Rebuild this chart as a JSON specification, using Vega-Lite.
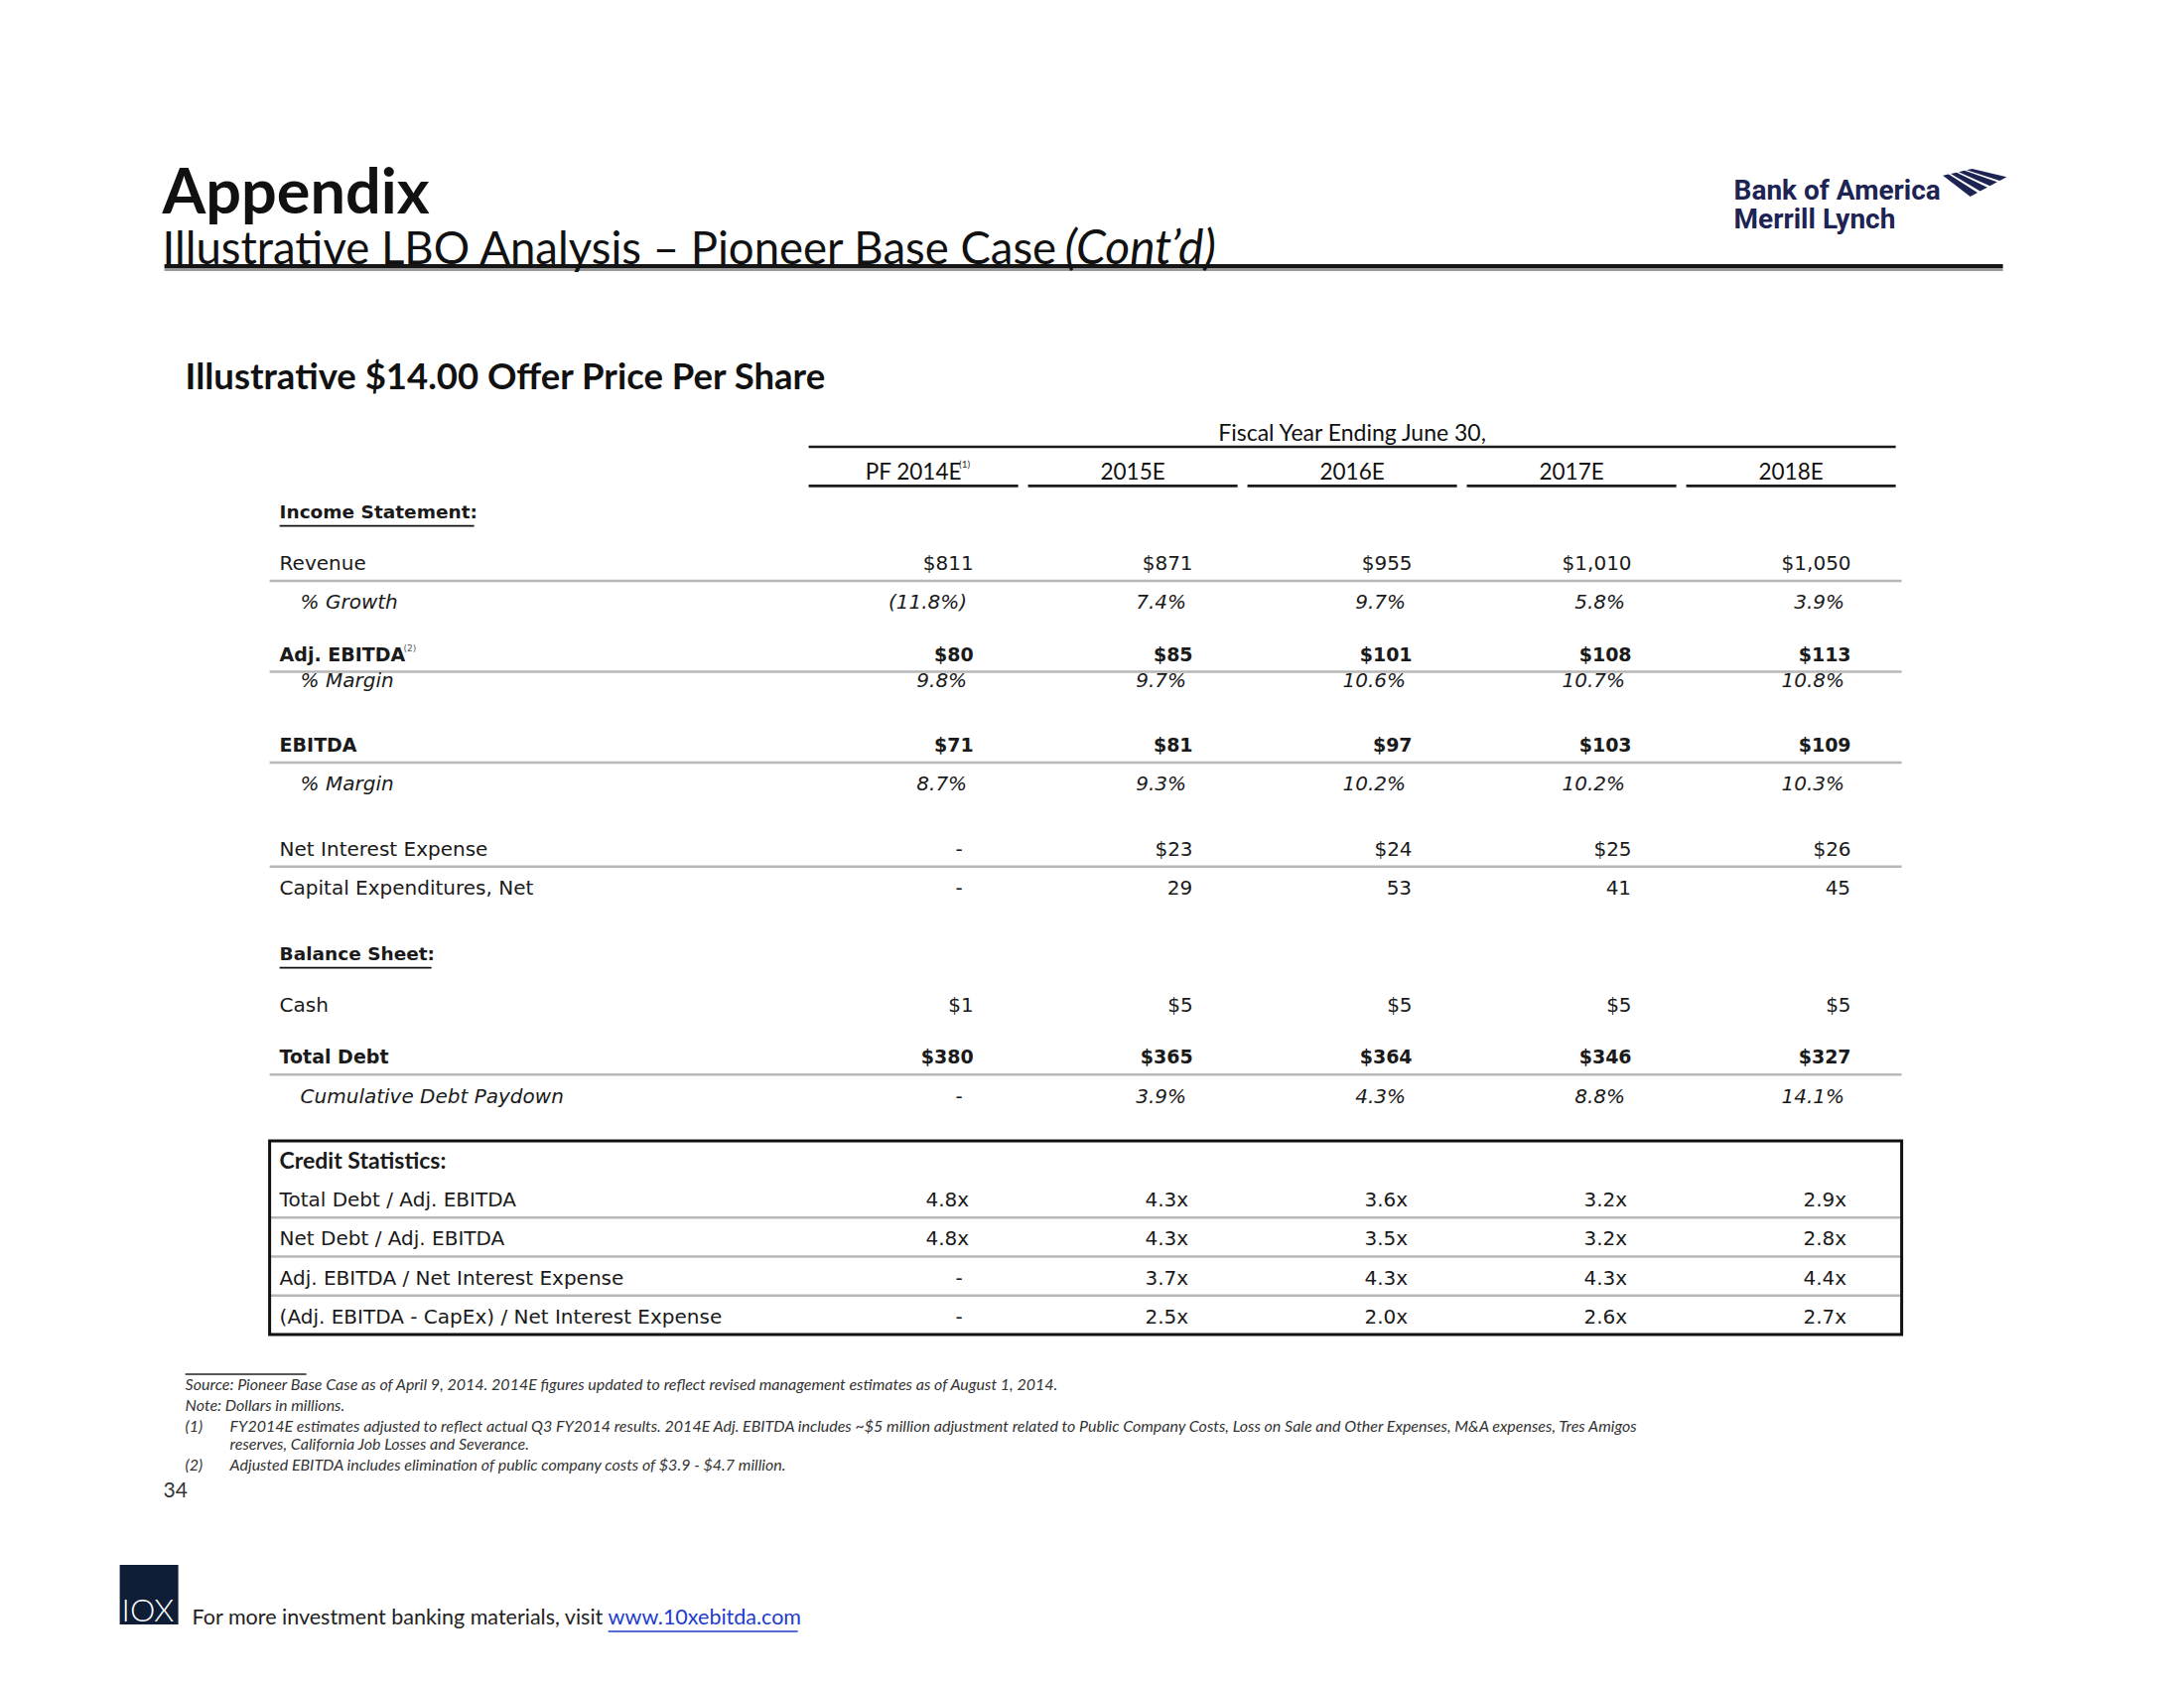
{
  "$schema": "https://vega.github.io/schema/vega-lite/v6.json",
  "width": 2200,
  "height": 1700,
  "autosize": {"type": "fit", "contains": "padding"},
  "padding": 0,
  "background": "white",
  "config": {
    "view": {"stroke": null},
    "axis": {"disable": true},
    "text": {"font": "DejaVu Sans", "fontSize": 20, "color": "#1a1a1a", "baseline": "middle"}
  },
  "data": {"values": [{}]},
  "datasets": {
    "lines": [
      {"row": "Income Statement:", "label": "Income Statement:", "type": "section", "rule": false},
      {"row": "Revenue", "label": "Revenue", "type": "item", "unit": "$", "rule": true},
      {"row": "% Growth", "label": "% Growth", "type": "ratio", "unit": "%", "rule": false},
      {"row": "Adj. EBITDA", "label": "Adj. EBITDA", "type": "total", "unit": "$", "rule": true},
      {"row": "Adj. EBITDA % Margin", "label": "% Margin", "type": "ratio", "unit": "%", "rule": false},
      {"row": "EBITDA", "label": "EBITDA", "type": "total", "unit": "$", "rule": true},
      {"row": "EBITDA % Margin", "label": "% Margin", "type": "ratio", "unit": "%", "rule": false},
      {"row": "Net Interest Expense", "label": "Net Interest Expense", "type": "item", "unit": "$", "rule": true},
      {"row": "Capital Expenditures, Net", "label": "Capital Expenditures, Net", "type": "item", "unit": "#", "rule": false},
      {"row": "Balance Sheet:", "label": "Balance Sheet:", "type": "section", "rule": false},
      {"row": "Cash", "label": "Cash", "type": "item", "unit": "$", "rule": false},
      {"row": "Total Debt", "label": "Total Debt", "type": "total", "unit": "$", "rule": true},
      {"row": "Cumulative Debt Paydown", "label": "Cumulative Debt Paydown", "type": "ratio", "unit": "%", "rule": false},
      {"row": "Credit Statistics:", "label": "Credit Statistics:", "type": "heading", "rule": false},
      {"row": "Total Debt / Adj. EBITDA", "label": "Total Debt / Adj. EBITDA", "type": "stat", "unit": "x", "rule": true},
      {"row": "Net Debt / Adj. EBITDA", "label": "Net Debt / Adj. EBITDA", "type": "stat", "unit": "x", "rule": true},
      {"row": "Adj. EBITDA / Net Interest Expense", "label": "Adj. EBITDA / Net Interest Expense", "type": "stat", "unit": "x", "rule": true},
      {"row": "(Adj. EBITDA - CapEx) / Net Interest Expense", "label": "(Adj. EBITDA - CapEx) / Net Interest Expense", "type": "stat", "unit": "x", "rule": false}
    ],
    "cells": [
      {"row": "Revenue", "col": "PF 2014E", "value": 811},
      {"row": "Revenue", "col": "2015E", "value": 871},
      {"row": "Revenue", "col": "2016E", "value": 955},
      {"row": "Revenue", "col": "2017E", "value": 1010},
      {"row": "Revenue", "col": "2018E", "value": 1050},
      {"row": "% Growth", "col": "PF 2014E", "value": -0.118},
      {"row": "% Growth", "col": "2015E", "value": 0.074},
      {"row": "% Growth", "col": "2016E", "value": 0.097},
      {"row": "% Growth", "col": "2017E", "value": 0.058},
      {"row": "% Growth", "col": "2018E", "value": 0.039},
      {"row": "Adj. EBITDA", "col": "PF 2014E", "value": 80},
      {"row": "Adj. EBITDA", "col": "2015E", "value": 85},
      {"row": "Adj. EBITDA", "col": "2016E", "value": 101},
      {"row": "Adj. EBITDA", "col": "2017E", "value": 108},
      {"row": "Adj. EBITDA", "col": "2018E", "value": 113},
      {"row": "Adj. EBITDA % Margin", "col": "PF 2014E", "value": 0.098},
      {"row": "Adj. EBITDA % Margin", "col": "2015E", "value": 0.097},
      {"row": "Adj. EBITDA % Margin", "col": "2016E", "value": 0.106},
      {"row": "Adj. EBITDA % Margin", "col": "2017E", "value": 0.107},
      {"row": "Adj. EBITDA % Margin", "col": "2018E", "value": 0.108},
      {"row": "EBITDA", "col": "PF 2014E", "value": 71},
      {"row": "EBITDA", "col": "2015E", "value": 81},
      {"row": "EBITDA", "col": "2016E", "value": 97},
      {"row": "EBITDA", "col": "2017E", "value": 103},
      {"row": "EBITDA", "col": "2018E", "value": 109},
      {"row": "EBITDA % Margin", "col": "PF 2014E", "value": 0.087},
      {"row": "EBITDA % Margin", "col": "2015E", "value": 0.093},
      {"row": "EBITDA % Margin", "col": "2016E", "value": 0.102},
      {"row": "EBITDA % Margin", "col": "2017E", "value": 0.102},
      {"row": "EBITDA % Margin", "col": "2018E", "value": 0.103},
      {"row": "Net Interest Expense", "col": "PF 2014E", "value": null},
      {"row": "Net Interest Expense", "col": "2015E", "value": 23},
      {"row": "Net Interest Expense", "col": "2016E", "value": 24},
      {"row": "Net Interest Expense", "col": "2017E", "value": 25},
      {"row": "Net Interest Expense", "col": "2018E", "value": 26},
      {"row": "Capital Expenditures, Net", "col": "PF 2014E", "value": null},
      {"row": "Capital Expenditures, Net", "col": "2015E", "value": 29},
      {"row": "Capital Expenditures, Net", "col": "2016E", "value": 53},
      {"row": "Capital Expenditures, Net", "col": "2017E", "value": 41},
      {"row": "Capital Expenditures, Net", "col": "2018E", "value": 45},
      {"row": "Cash", "col": "PF 2014E", "value": 1},
      {"row": "Cash", "col": "2015E", "value": 5},
      {"row": "Cash", "col": "2016E", "value": 5},
      {"row": "Cash", "col": "2017E", "value": 5},
      {"row": "Cash", "col": "2018E", "value": 5},
      {"row": "Total Debt", "col": "PF 2014E", "value": 380},
      {"row": "Total Debt", "col": "2015E", "value": 365},
      {"row": "Total Debt", "col": "2016E", "value": 364},
      {"row": "Total Debt", "col": "2017E", "value": 346},
      {"row": "Total Debt", "col": "2018E", "value": 327},
      {"row": "Cumulative Debt Paydown", "col": "PF 2014E", "value": null},
      {"row": "Cumulative Debt Paydown", "col": "2015E", "value": 0.039},
      {"row": "Cumulative Debt Paydown", "col": "2016E", "value": 0.043},
      {"row": "Cumulative Debt Paydown", "col": "2017E", "value": 0.088},
      {"row": "Cumulative Debt Paydown", "col": "2018E", "value": 0.141},
      {"row": "Total Debt / Adj. EBITDA", "col": "PF 2014E", "value": 4.8},
      {"row": "Total Debt / Adj. EBITDA", "col": "2015E", "value": 4.3},
      {"row": "Total Debt / Adj. EBITDA", "col": "2016E", "value": 3.6},
      {"row": "Total Debt / Adj. EBITDA", "col": "2017E", "value": 3.2},
      {"row": "Total Debt / Adj. EBITDA", "col": "2018E", "value": 2.9},
      {"row": "Net Debt / Adj. EBITDA", "col": "PF 2014E", "value": 4.8},
      {"row": "Net Debt / Adj. EBITDA", "col": "2015E", "value": 4.3},
      {"row": "Net Debt / Adj. EBITDA", "col": "2016E", "value": 3.5},
      {"row": "Net Debt / Adj. EBITDA", "col": "2017E", "value": 3.2},
      {"row": "Net Debt / Adj. EBITDA", "col": "2018E", "value": 2.8},
      {"row": "Adj. EBITDA / Net Interest Expense", "col": "PF 2014E", "value": null},
      {"row": "Adj. EBITDA / Net Interest Expense", "col": "2015E", "value": 3.7},
      {"row": "Adj. EBITDA / Net Interest Expense", "col": "2016E", "value": 4.3},
      {"row": "Adj. EBITDA / Net Interest Expense", "col": "2017E", "value": 4.3},
      {"row": "Adj. EBITDA / Net Interest Expense", "col": "2018E", "value": 4.4},
      {"row": "(Adj. EBITDA - CapEx) / Net Interest Expense", "col": "PF 2014E", "value": null},
      {"row": "(Adj. EBITDA - CapEx) / Net Interest Expense", "col": "2015E", "value": 2.5},
      {"row": "(Adj. EBITDA - CapEx) / Net Interest Expense", "col": "2016E", "value": 2.0},
      {"row": "(Adj. EBITDA - CapEx) / Net Interest Expense", "col": "2017E", "value": 2.6},
      {"row": "(Adj. EBITDA - CapEx) / Net Interest Expense", "col": "2018E", "value": 2.7}
    ]
  },
  "layer": [
    {
      "data": {"name": "lines"},
      "transform": [{"filter": {"field": "rule", "equal": true}}],
      "mark": {"type": "rule", "color": "#b8b8b8", "strokeWidth": 2.5, "yOffset": 17, "xOffset": 120, "x2Offset": 6},
      "encoding": {
        "x": {"datum": "Label", "bandPosition": 0, "scale": {"type": "band", "domain": ["Label", "g1", "g2", "PF 2014E", "2015E", "2016E", "2017E", "2018E"], "paddingInner": 0.045, "paddingOuter": 1.036, "align": 0.343}},
        "x2": {"datum": "2018E", "bandPosition": 1},
        "y": {"field": "row", "type": "nominal", "scale": {"type": "point", "domain": ["Fiscal Year Ending June 30,", "hdr-rule", "s2", "years", "years-rule", "s5", "Income Statement:", "s7", "s8", "s9", "Revenue", "s11", "s12", "% Growth", "s14", "s15", "s16", "Adj. EBITDA", "s18", "Adj. EBITDA % Margin", "s20", "s21", "s22", "s23", "EBITDA", "s25", "s26", "EBITDA % Margin", "s28", "s29", "s30", "s31", "Net Interest Expense", "s33", "s34", "Capital Expenditures, Net", "s36", "s37", "s38", "s39", "Balance Sheet:", "s41", "s42", "s43", "Cash", "s45", "s46", "s47", "Total Debt", "s49", "s50", "Cumulative Debt Paydown", "s52", "s53", "s54", "s55", "Credit Statistics:", "s57", "s58", "Total Debt / Adj. EBITDA", "s60", "s61", "Net Debt / Adj. EBITDA", "s63", "s64", "Adj. EBITDA / Net Interest Expense", "s66", "s67", "(Adj. EBITDA - CapEx) / Net Interest Expense"], "range": [437, 1327], "padding": 0}}
      }
    },
    {
      "mark": {"type": "rect", "fillOpacity": 0, "stroke": "#111111", "strokeWidth": 3, "xOffset": 120, "x2Offset": 6, "yOffset": -21, "y2Offset": 17},
      "encoding": {
        "x": {"datum": "Label", "bandPosition": 0},
        "x2": {"datum": "2018E", "bandPosition": 1},
        "y": {"datum": "Credit Statistics:"},
        "y2": {"datum": "(Adj. EBITDA - CapEx) / Net Interest Expense"}
      }
    },
    {
      "mark": {"type": "rule", "color": "#1a1a1a", "strokeWidth": 2.5},
      "encoding": {
        "x": {"datum": "PF 2014E", "bandPosition": 0},
        "x2": {"datum": "2018E", "bandPosition": 1},
        "y": {"datum": "hdr-rule"}
      }
    },
    {
      "data": {"name": "cells"},
      "transform": [{"aggregate": [{"op": "count", "as": "n"}], "groupby": ["col"]}],
      "mark": {"type": "rect", "fill": "#1a1a1a", "yOffset": -1.3, "y2Offset": 1.3},
      "encoding": {
        "x": {"field": "col", "type": "nominal"},
        "y": {"datum": "years-rule"},
        "y2": {"datum": "years-rule"}
      }
    },
    {
      "data": {"name": "cells"},
      "transform": [{"aggregate": [{"op": "count", "as": "n"}], "groupby": ["col"]}],
      "mark": {"type": "text", "font": "Lato", "fontSize": 22.5, "align": "center", "color": "#111111"},
      "encoding": {
        "x": {"field": "col", "type": "nominal"},
        "y": {"datum": "years"},
        "text": {"field": "col"}
      }
    },
    {
      "mark": {"type": "text", "font": "Lato", "fontSize": 10, "align": "left", "dx": 46, "dy": -8, "text": "(1)", "color": "#333333"},
      "encoding": {"x": {"datum": "PF 2014E"}, "y": {"datum": "years"}}
    },
    {
      "mark": {"type": "text", "font": "Lato", "fontSize": 23, "align": "center", "color": "#111111", "text": "Fiscal Year Ending June 30,"},
      "encoding": {"x": {"datum": "2016E"}, "y": {"datum": "Fiscal Year Ending June 30,"}}
    },
    {
      "data": {"name": "lines"},
      "transform": [{"filter": {"field": "type", "oneOf": ["item", "stat"]}}],
      "mark": {"type": "text", "align": "left", "dx": 130},
      "encoding": {"x": {"datum": "Label", "bandPosition": 0}, "y": {"field": "row", "type": "nominal"}, "text": {"field": "label"}}
    },
    {
      "data": {"name": "lines"},
      "transform": [{"filter": {"field": "type", "equal": "total"}}],
      "mark": {"type": "text", "align": "left", "dx": 130, "fontWeight": "bold", "fontSize": 19},
      "encoding": {"x": {"datum": "Label", "bandPosition": 0}, "y": {"field": "row", "type": "nominal"}, "text": {"field": "label"}}
    },
    {
      "data": {"name": "lines"},
      "transform": [{"filter": {"field": "type", "equal": "ratio"}}],
      "mark": {"type": "text", "align": "left", "dx": 151, "fontStyle": "italic"},
      "encoding": {"x": {"datum": "Label", "bandPosition": 0}, "y": {"field": "row", "type": "nominal"}, "text": {"field": "label"}}
    },
    {
      "data": {"name": "lines"},
      "transform": [{"filter": {"field": "type", "equal": "section"}}],
      "mark": {"type": "text", "align": "left", "dx": 130, "fontWeight": "bold", "fontSize": 18.5},
      "encoding": {"x": {"datum": "Label", "bandPosition": 0}, "y": {"field": "row", "type": "nominal"}, "text": {"field": "label"}}
    },
    {
      "data": {"name": "lines"},
      "transform": [{"filter": {"field": "type", "equal": "heading"}}],
      "mark": {"type": "text", "align": "left", "dx": 130, "font": "Lato", "fontWeight": "bold", "fontSize": 23},
      "encoding": {"x": {"datum": "Label", "bandPosition": 0}, "y": {"field": "row", "type": "nominal"}, "text": {"field": "label"}}
    },
    {
      "mark": {"type": "rule", "color": "#111111", "strokeWidth": 1.8, "yOffset": 14, "xOffset": 130, "x2Offset": 326},
      "encoding": {"x": {"datum": "Label", "bandPosition": 0}, "x2": {"datum": "Label", "bandPosition": 0}, "y": {"datum": "Income Statement:"}}
    },
    {
      "mark": {"type": "rule", "color": "#111111", "strokeWidth": 1.8, "yOffset": 14, "xOffset": 130, "x2Offset": 283},
      "encoding": {"x": {"datum": "Label", "bandPosition": 0}, "x2": {"datum": "Label", "bandPosition": 0}, "y": {"datum": "Balance Sheet:"}}
    },
    {
      "mark": {"type": "text", "align": "left", "dx": 255, "dy": -7, "fontSize": 9, "text": "(2)", "color": "#555555"},
      "encoding": {"x": {"datum": "Label", "bandPosition": 0}, "y": {"datum": "Adj. EBITDA"}}
    },
    {
      "data": {"name": "cells"},
      "transform": [
        {"lookup": "row", "from": {"data": {"name": "lines"}, "key": "row", "fields": ["type", "unit"]}},
        {"filter": {"and": [{"field": "unit", "equal": "$"}, {"field": "type", "equal": "item"}, {"field": "value", "valid": true}]}}
      ],
      "mark": {"type": "text", "align": "right", "dx": 60.5},
      "encoding": {"x": {"field": "col", "type": "nominal"}, "y": {"field": "row", "type": "nominal"}, "text": {"field": "value", "type": "quantitative", "format": "$,.0f"}}
    },
    {
      "data": {"name": "cells"},
      "transform": [
        {"lookup": "row", "from": {"data": {"name": "lines"}, "key": "row", "fields": ["type", "unit"]}},
        {"filter": {"and": [{"field": "unit", "equal": "$"}, {"field": "type", "equal": "total"}, {"field": "value", "valid": true}]}}
      ],
      "mark": {"type": "text", "align": "right", "dx": 60.5, "fontWeight": "bold", "fontSize": 19},
      "encoding": {"x": {"field": "col", "type": "nominal"}, "y": {"field": "row", "type": "nominal"}, "text": {"field": "value", "type": "quantitative", "format": "$,.0f"}}
    },
    {
      "data": {"name": "cells"},
      "transform": [
        {"lookup": "row", "from": {"data": {"name": "lines"}, "key": "row", "fields": ["type", "unit"]}},
        {"filter": {"and": [{"field": "unit", "equal": "#"}, {"field": "value", "valid": true}]}}
      ],
      "mark": {"type": "text", "align": "right", "dx": 60},
      "encoding": {"x": {"field": "col", "type": "nominal"}, "y": {"field": "row", "type": "nominal"}, "text": {"field": "value", "type": "quantitative", "format": ",.0f"}}
    },
    {
      "data": {"name": "cells"},
      "transform": [
        {"lookup": "row", "from": {"data": {"name": "lines"}, "key": "row", "fields": ["type", "unit"]}},
        {"filter": {"and": [{"field": "unit", "equal": "%"}, {"field": "value", "valid": true}]}}
      ],
      "mark": {"type": "text", "align": "right", "dx": 54, "fontStyle": "italic"},
      "encoding": {"x": {"field": "col", "type": "nominal"}, "y": {"field": "row", "type": "nominal"}, "text": {"field": "value", "type": "quantitative", "format": "(.1%"}}
    },
    {
      "data": {"name": "cells"},
      "transform": [
        {"lookup": "row", "from": {"data": {"name": "lines"}, "key": "row", "fields": ["type", "unit"]}},
        {"filter": {"and": [{"field": "unit", "equal": "x"}, {"field": "value", "valid": true}]}}
      ],
      "mark": {"type": "text", "align": "right", "dx": 44.2},
      "encoding": {"x": {"field": "col", "type": "nominal"}, "y": {"field": "row", "type": "nominal"}, "text": {"field": "value", "type": "quantitative", "format": ".1f"}}
    },
    {
      "data": {"name": "cells"},
      "transform": [
        {"lookup": "row", "from": {"data": {"name": "lines"}, "key": "row", "fields": ["type", "unit"]}},
        {"filter": {"and": [{"field": "unit", "equal": "x"}, {"field": "value", "valid": true}]}}
      ],
      "mark": {"type": "text", "align": "right", "dx": 56, "text": "x"},
      "encoding": {"x": {"field": "col", "type": "nominal"}, "y": {"field": "row", "type": "nominal"}}
    },
    {
      "data": {"name": "cells"},
      "transform": [{"filter": {"field": "value", "valid": false}}],
      "mark": {"type": "text", "align": "center", "dx": 46, "text": "-"},
      "encoding": {"x": {"field": "col", "type": "nominal"}, "y": {"field": "row", "type": "nominal"}}
    },
    {
      "mark": {"type": "rule", "color": "#9a9a9a", "strokeWidth": 3, "yOffset": -165.5, "xOffset": 14, "x2Offset": 108},
      "encoding": {"x": {"datum": "Label", "bandPosition": 0}, "x2": {"datum": "2018E", "bandPosition": 1}, "y": {"datum": "Fiscal Year Ending June 30,"}}
    },
    {
      "mark": {"type": "rule", "color": "#151515", "strokeWidth": 4, "yOffset": -169, "xOffset": 14, "x2Offset": 108},
      "encoding": {"x": {"datum": "Label", "bandPosition": 0}, "x2": {"datum": "2018E", "bandPosition": 1}, "y": {"datum": "Fiscal Year Ending June 30,"}}
    },
    {
      "mark": {"type": "text", "font": "Lato", "fontWeight": "bold", "fontSize": 63, "align": "left", "dx": 12, "dy": -241, "color": "#111111", "text": "Appendix"},
      "encoding": {"x": {"datum": "Label", "bandPosition": 0}, "y": {"datum": "Fiscal Year Ending June 30,"}}
    },
    {
      "mark": {"type": "text", "font": "Lato", "fontSize": 45.5, "align": "left", "dx": 12, "dy": -185, "color": "#111111", "text": "Illustrative LBO Analysis – Pioneer Base Case"},
      "encoding": {"x": {"datum": "Label", "bandPosition": 0}, "y": {"datum": "Fiscal Year Ending June 30,"}}
    },
    {
      "mark": {"type": "text", "font": "Lato", "fontStyle": "italic", "fontSize": 48, "align": "left", "dx": 921, "dy": -185, "color": "#111111", "text": "(Cont’d)"},
      "encoding": {"x": {"datum": "Label", "bandPosition": 0}, "y": {"datum": "Fiscal Year Ending June 30,"}}
    },
    {
      "mark": {"type": "text", "font": "Lato", "fontWeight": "bold", "fontSize": 36.5, "align": "left", "dx": 35, "dy": -56, "color": "#111111", "text": "Illustrative $14.00 Offer Price Per Share"},
      "encoding": {"x": {"datum": "Label", "bandPosition": 0}, "y": {"datum": "Fiscal Year Ending June 30,"}}
    },
    {
      "mark": {"type": "text", "font": "Roboto", "fontWeight": "bold", "fontSize": 28, "align": "left", "dx": 48, "dy": -244, "color": "#1d2352", "text": "Bank of America"},
      "encoding": {"x": {"datum": "2018E", "bandPosition": 0}, "y": {"datum": "Fiscal Year Ending June 30,"}}
    },
    {
      "mark": {"type": "text", "font": "Roboto", "fontWeight": "bold", "fontSize": 28, "align": "left", "dx": 48, "dy": -215, "color": "#1d2352", "text": "Merrill Lynch"},
      "encoding": {"x": {"datum": "2018E", "bandPosition": 0}, "y": {"datum": "Fiscal Year Ending June 30,"}}
    },
    {
      "mark": {"type": "point", "filled": true, "size": 4225, "color": "#1d2352", "opacity": 1, "strokeWidth": 0, "xOffset": 291, "yOffset": -253, "shape": "M-1,-0.22L-0.818,-0.262L0.076,0.308L-0.15,0.43Z M-0.754,-0.277L-0.572,-0.319L0.381,0.143L0.155,0.265Z M-0.509,-0.333L-0.327,-0.375L0.686,-0.021L0.46,0.101Z M-0.263,-0.39L-0.09,-0.43L0.98,-0.18L0.765,-0.064Z"},
      "encoding": {"x": {"datum": "2018E", "bandPosition": 0}, "y": {"datum": "Fiscal Year Ending June 30,"}}
    },
    {
      "mark": {"type": "rule", "color": "#222222", "strokeWidth": 1.5, "yOffset": 57, "xOffset": 35, "x2Offset": 157},
      "encoding": {"x": {"datum": "Label", "bandPosition": 0}, "x2": {"datum": "Label", "bandPosition": 0}, "y": {"datum": "(Adj. EBITDA - CapEx) / Net Interest Expense"}}
    },
    {
      "mark": {"type": "text", "font": "Lato", "fontStyle": "italic", "fontSize": 16, "align": "left", "dx": 35, "dy": 68, "color": "#333333", "text": "Source: Pioneer Base Case as of April 9, 2014. 2014E figures updated to reflect revised management estimates as of August 1, 2014."},
      "encoding": {"x": {"datum": "Label", "bandPosition": 0}, "y": {"datum": "(Adj. EBITDA - CapEx) / Net Interest Expense"}}
    },
    {
      "mark": {"type": "text", "font": "Lato", "fontStyle": "italic", "fontSize": 16, "align": "left", "dx": 35, "dy": 89, "color": "#333333", "text": "Note: Dollars in millions."},
      "encoding": {"x": {"datum": "Label", "bandPosition": 0}, "y": {"datum": "(Adj. EBITDA - CapEx) / Net Interest Expense"}}
    },
    {
      "mark": {"type": "text", "font": "Lato", "fontStyle": "italic", "fontSize": 16, "align": "left", "dx": 35, "dy": 110, "color": "#333333", "text": "(1)"},
      "encoding": {"x": {"datum": "Label", "bandPosition": 0}, "y": {"datum": "(Adj. EBITDA - CapEx) / Net Interest Expense"}}
    },
    {
      "mark": {"type": "text", "font": "Lato", "fontStyle": "italic", "fontSize": 16, "align": "left", "dx": 80, "dy": 110, "color": "#333333", "text": "FY2014E estimates adjusted to reflect actual Q3 FY2014 results. 2014E Adj. EBITDA includes ~$5 million adjustment related to Public Company Costs, Loss on Sale and Other Expenses, M&A expenses, Tres Amigos"},
      "encoding": {"x": {"datum": "Label", "bandPosition": 0}, "y": {"datum": "(Adj. EBITDA - CapEx) / Net Interest Expense"}}
    },
    {
      "mark": {"type": "text", "font": "Lato", "fontStyle": "italic", "fontSize": 16, "align": "left", "dx": 80, "dy": 128, "color": "#333333", "text": "reserves, California Job Losses and Severance."},
      "encoding": {"x": {"datum": "Label", "bandPosition": 0}, "y": {"datum": "(Adj. EBITDA - CapEx) / Net Interest Expense"}}
    },
    {
      "mark": {"type": "text", "font": "Lato", "fontStyle": "italic", "fontSize": 16, "align": "left", "dx": 35, "dy": 149, "color": "#333333", "text": "(2)"},
      "encoding": {"x": {"datum": "Label", "bandPosition": 0}, "y": {"datum": "(Adj. EBITDA - CapEx) / Net Interest Expense"}}
    },
    {
      "mark": {"type": "text", "font": "Lato", "fontStyle": "italic", "fontSize": 16, "align": "left", "dx": 80, "dy": 149, "color": "#333333", "text": "Adjusted EBITDA includes elimination of public company costs of $3.9 - $4.7 million."},
      "encoding": {"x": {"datum": "Label", "bandPosition": 0}, "y": {"datum": "(Adj. EBITDA - CapEx) / Net Interest Expense"}}
    },
    {
      "mark": {"type": "text", "font": "Lato", "fontSize": 21, "align": "left", "dx": 13, "dy": 175, "color": "#333333", "text": "34"},
      "encoding": {"x": {"datum": "Label", "bandPosition": 0}, "y": {"datum": "(Adj. EBITDA - CapEx) / Net Interest Expense"}}
    },
    {
      "mark": {"type": "rect", "fill": "#0f1d36", "xOffset": -31, "x2Offset": 28, "yOffset": 249, "y2Offset": 309},
      "encoding": {"x": {"datum": "Label", "bandPosition": 0}, "x2": {"datum": "Label", "bandPosition": 0}, "y": {"datum": "(Adj. EBITDA - CapEx) / Net Interest Expense"}, "y2": {"datum": "(Adj. EBITDA - CapEx) / Net Interest Expense"}}
    },
    {
      "mark": {"type": "text", "font": "Lato", "fontWeight": 300, "fontSize": 32, "align": "left", "baseline": "alphabetic", "dx": -29, "dy": 306, "color": "#ffffff", "text": "IOX"},
      "encoding": {"x": {"datum": "Label", "bandPosition": 0}, "y": {"datum": "(Adj. EBITDA - CapEx) / Net Interest Expense"}}
    },
    {
      "mark": {"type": "text", "font": "Lato", "fontSize": 21.5, "align": "left", "dx": 42, "dy": 303, "color": "#222222", "text": "For more investment banking materials, visit"},
      "encoding": {"x": {"datum": "Label", "bandPosition": 0}, "y": {"datum": "(Adj. EBITDA - CapEx) / Net Interest Expense"}}
    },
    {
      "mark": {"type": "text", "font": "Lato", "fontSize": 21.5, "align": "left", "dx": 461, "dy": 303, "color": "#1f3cc9", "text": "www.10xebitda.com"},
      "encoding": {"x": {"datum": "Label", "bandPosition": 0}, "y": {"datum": "(Adj. EBITDA - CapEx) / Net Interest Expense"}}
    },
    {
      "mark": {"type": "rule", "color": "#1f3cc9", "strokeWidth": 1.3, "yOffset": 316, "xOffset": 461, "x2Offset": 652},
      "encoding": {"x": {"datum": "Label", "bandPosition": 0}, "x2": {"datum": "Label", "bandPosition": 0}, "y": {"datum": "(Adj. EBITDA - CapEx) / Net Interest Expense"}}
    }
  ]
}
